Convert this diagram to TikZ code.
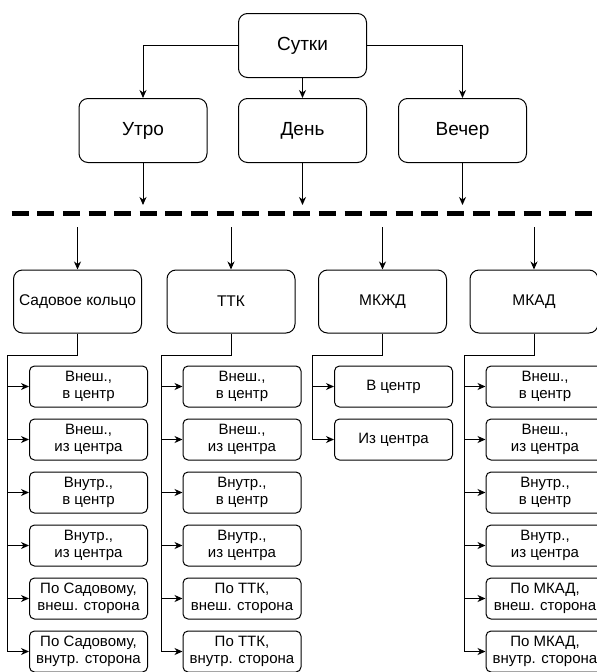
\documentclass[tikz,border=0pt]{standalone}
\usepackage{fontspec}
\setmainfont{Liberation Sans}
\usetikzlibrary{arrows.meta}
\begin{document}
\begin{tikzpicture}[x=1pt,y=-1pt,
  line width=1pt,
  bigbox/.style={draw, rounded corners=9pt, minimum width=128pt, minimum height=64pt, inner sep=0pt, font=\fontsize{19}{22}\selectfont},
  midbox/.style={draw, rounded corners=9pt, minimum width=128pt, minimum height=63pt, inner sep=0pt, font=\fontsize{15.5}{18}\selectfont},
  leafbox/.style={draw, rounded corners=5pt, minimum width=118pt, minimum height=41pt, inner sep=0pt, align=center, font=\fontsize{15}{17}\selectfont},
  arr/.style={-{Stealth[length=8pt,width=7pt,inset=2.5pt]}},
  sepline/.style={line width=5pt, dash pattern=on 17pt off 8.6pt}
]
\useasboundingbox (0,0) rectangle (597,672);

% top level
\node[bigbox] (s) at (302.5,45.5) {Сутки};
\node[bigbox] (u) at (143,130.5) {Утро};
\node[bigbox] (d) at (302.5,130.5) {День};
\node[bigbox] (v) at (462.5,130.5) {Вечер};
\draw[arr] (s.west) -| (u.north);
\draw[arr] (s.south) -- (d.north);
\draw[arr] (s.east) -| (v.north);

\coordinate (ue) at (143,205);
\coordinate (de) at (302.5,205);
\coordinate (ve) at (462.5,205);
\draw[arr] (u.south) -- (ue);
\draw[arr] (d.south) -- (de);
\draw[arr] (v.south) -- (ve);

% separator
\coordinate (dl) at (11.7,213.5);
\coordinate (dr) at (592,213.5);
\draw[sepline] (dl) -- (dr);

% level 3
\node[midbox] (sk) at (77.5,301.5) {Садовое кольцо};
\node[midbox] (tk) at (231,301.5) {ТТК};
\node[midbox] (mz) at (382.5,301.5) {МКЖД};
\node[midbox] (ma) at (534,301.5) {МКАД};
\coordinate (skt) at (77.5,227);
\coordinate (tkt) at (231,227);
\coordinate (mzt) at (382.5,227);
\coordinate (mat) at (534,227);
\draw[arr] (skt) -- (sk.north);
\draw[arr] (tkt) -- (tk.north);
\draw[arr] (mzt) -- (mz.north);
\draw[arr] (mat) -- (ma.north);

% Садовое кольцо leaves
\node[leafbox] (sk1) at (88.5,386.5) {Внеш.,\\в центр};
\node[leafbox] (sk2) at (88.5,439.5) {Внеш.,\\из центра};
\node[leafbox] (sk3) at (88.5,492.5) {Внутр.,\\в центр};
\node[leafbox] (sk4) at (88.5,545.5) {Внутр.,\\из центра};
\node[leafbox] (sk5) at (88.5,598.5) {По Садовому,\\внеш. сторона};
\node[leafbox] (sk6) at (88.5,651.5) {По Садовому,\\внутр. сторона};
\coordinate (skb) at (7,355);
\draw (sk.south) |- (skb);
\draw[arr] (skb) |- (sk6.west);
\draw[arr] (skb |- sk1.west) -- (sk1.west);
\draw[arr] (skb |- sk2.west) -- (sk2.west);
\draw[arr] (skb |- sk3.west) -- (sk3.west);
\draw[arr] (skb |- sk4.west) -- (sk4.west);
\draw[arr] (skb |- sk5.west) -- (sk5.west);

% ТТК leaves
\node[leafbox] (tk1) at (242,386.5) {Внеш.,\\в центр};
\node[leafbox] (tk2) at (242,439.5) {Внеш.,\\из центра};
\node[leafbox] (tk3) at (242,492.5) {Внутр.,\\в центр};
\node[leafbox] (tk4) at (242,545.5) {Внутр.,\\из центра};
\node[leafbox] (tk5) at (242,598.5) {По ТТК,\\внеш. сторона};
\node[leafbox] (tk6) at (242,651.5) {По ТТК,\\внутр. сторона};
\coordinate (tkb) at (161,355);
\draw (tk.south) |- (tkb);
\draw[arr] (tkb) |- (tk6.west);
\draw[arr] (tkb |- tk1.west) -- (tk1.west);
\draw[arr] (tkb |- tk2.west) -- (tk2.west);
\draw[arr] (tkb |- tk3.west) -- (tk3.west);
\draw[arr] (tkb |- tk4.west) -- (tk4.west);
\draw[arr] (tkb |- tk5.west) -- (tk5.west);

% МКЖД leaves
\node[leafbox] (mz1) at (393.5,386.5) {В центр};
\node[leafbox] (mz2) at (393.5,439.5) {Из центра};
\coordinate (mzb) at (312.5,355);
\draw (mz.south) |- (mzb);
\draw[arr] (mzb) |- (mz2.west);
\draw[arr] (mzb |- mz1.west) -- (mz1.west);

% МКАД leaves
\node[leafbox] (ma1) at (545,386.5) {Внеш.,\\в центр};
\node[leafbox] (ma2) at (545,439.5) {Внеш.,\\из центра};
\node[leafbox] (ma3) at (545,492.5) {Внутр.,\\в центр};
\node[leafbox] (ma4) at (545,545.5) {Внутр.,\\из центра};
\node[leafbox] (ma5) at (545,598.5) {По МКАД,\\внеш. сторона};
\node[leafbox] (ma6) at (545,651.5) {По МКАД,\\внутр. сторона};
\coordinate (mab) at (464,355);
\draw (ma.south) |- (mab);
\draw[arr] (mab) |- (ma6.west);
\draw[arr] (mab |- ma1.west) -- (ma1.west);
\draw[arr] (mab |- ma2.west) -- (ma2.west);
\draw[arr] (mab |- ma3.west) -- (ma3.west);
\draw[arr] (mab |- ma4.west) -- (ma4.west);
\draw[arr] (mab |- ma5.west) -- (ma5.west);
\end{tikzpicture}
\end{document}
